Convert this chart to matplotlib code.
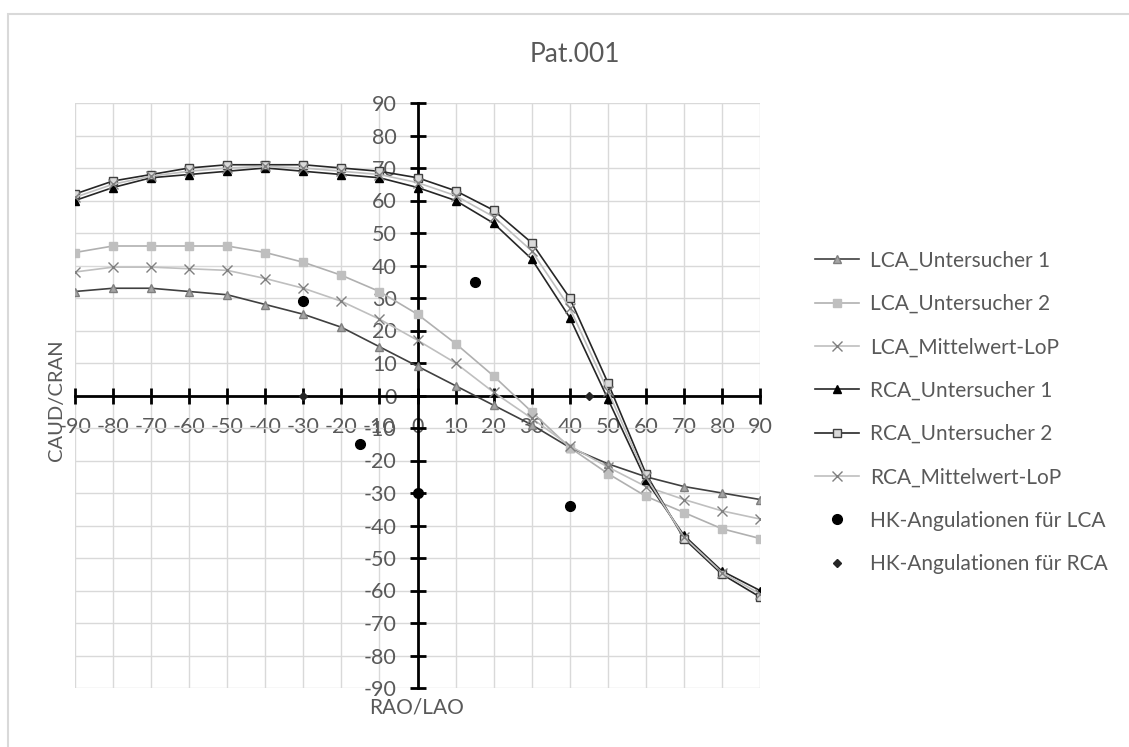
import numpy as np
import matplotlib
matplotlib.use("Agg")
import matplotlib.pyplot as plt
from matplotlib.patches import Rectangle

plt.rcParams['font.family'] = ['Lato', 'DejaVu Sans']
plt.rcParams['axes.unicode_minus'] = False

# angles RAO/LAO
angles = [-90, -80, -70, -60, -50, -40, -30, -20, -10, 0, 10, 20, 30, 40, 50, 60, 70, 80, 90]

lca_u1 = [32, 33, 33, 32, 31, 28, 25, 21, 15, 9, 3, -3, -9, -16, -21, -25, -28, -30, -32]
lca_u2 = [44, 46, 46, 46, 46, 44, 41, 37, 32, 25, 16, 6, -5, -16, -24, -31, -36, -41, -44]
lca_mw = [38, 39.5, 39.5, 39, 38.5, 36, 33, 29, 23.5, 17, 10, 1, -7, -15.5, -22, -28, -32, -35.5, -38]
rca_u1 = [60, 64, 67, 68, 69, 70, 69, 68, 67, 64, 60, 53, 42, 24, -1, -26, -43, -54, -60]
rca_u2 = [62, 66, 68, 70, 71, 71, 71, 70, 69, 67, 63, 57, 47, 30, 4, -24, -44, -55, -62]
rca_mw = [61, 65, 67.5, 69, 70, 70.5, 70, 69, 68, 65.5, 61.5, 55, 44.5, 27, 1.5, -25, -43.5, -54.5, -61]

hk_lca_x = [-30, 15, -15, 0, 40]
hk_lca_y = [29, 35, -15, -30, -34]
hk_rca_x = [-30, 45]
hk_rca_y = [0, 0]

ticks = list(range(-90, 91, 10))

W, H = 1129, 747
fig = plt.figure(figsize=(W / 100, H / 100), dpi=100)
# chart border, cut off at right and bottom like the reference
fig.patches.append(Rectangle((8 / W, -0.05), 1.1, 1.05 - 14 / H, transform=fig.transFigure,
                             fill=False, edgecolor='#d9d9d9', linewidth=1.5))
ax = fig.add_axes([75 / W, 1 - 688 / H, 685 / W, 585 / H])

ax.plot(angles, lca_u1, color='#404040', lw=1.2, marker='^', ms=6,
        mfc='#a5a5a5', mec='#7f7f7f', label='LCA_Untersucher 1', zorder=3)
ax.plot(angles, lca_u2, color='#b0b0b0', lw=1.2, marker='s', ms=6,
        mfc='#bfbfbf', mec='#bfbfbf', label='LCA_Untersucher 2', zorder=3)
ax.plot(angles, lca_mw, color='#bfbfbf', lw=1.2, marker='x', ms=7,
        mec='#7f7f7f', mew=1, label='LCA_Mittelwert-LoP', zorder=3)
ax.plot(angles, rca_u1, color='#262626', lw=1.2, marker='^', ms=6,
        mfc='black', mec='black', label='RCA_Untersucher 1', zorder=3)
ax.plot(angles, rca_u2, color='#262626', lw=1.2, marker='s', ms=6,
        mfc='#d9d9d9', mec='#404040', label='RCA_Untersucher 2', zorder=3)
ax.plot(angles, rca_mw, color='#bfbfbf', lw=1.2, marker='x', ms=7,
        mec='#7f7f7f', mew=1, label='RCA_Mittelwert-LoP', zorder=3)
ax.plot(hk_lca_x, hk_lca_y, ls='none', marker='o', ms=7, color='black',
        label='HK-Angulationen für LCA', zorder=4)
ax.plot(hk_rca_x, hk_rca_y, ls='none', marker='D', ms=4.5, color='#262626',
        label='HK-Angulationen für RCA', zorder=4)

ax.set_xlim(-90, 90)
ax.set_ylim(-90, 90)
ax.set_xticks(ticks)
ax.set_yticks(ticks)
ax.grid(True, color='#d9d9d9', lw=1)
ax.set_axisbelow(True)

for side in ['top', 'right']:
    ax.spines[side].set_visible(False)
ax.spines['left'].set_position(('data', 0))
ax.spines['bottom'].set_position(('data', 0))
for side in ['left', 'bottom']:
    ax.spines[side].set_linewidth(2)
    ax.spines[side].set_color('black')
    ax.spines[side].set_zorder(2.5)
ax.tick_params(direction='inout', length=12, width=2, color='black',
               labelsize=15.5, labelcolor='#595959')
ax.tick_params(axis='x', pad=9.5)
ax.tick_params(axis='y', pad=9)

fig.text(575 / W, 1 - 54 / H, 'Pat.001', ha='center', va='center',
         fontsize=19, color='#595959')
fig.text(57 / W, 1 - 400 / H, 'CAUD/CRAN', rotation=90, ha='center',
         va='center', fontsize=14.5, color='#595959')
fig.text(417 / W, 1 - 708 / H, 'RAO/LAO', ha='center', va='center',
         fontsize=15, color='#595959')

leg = ax.legend(loc='upper left', bbox_to_anchor=(796 / W, 1 - 232 / H),
                bbox_transform=fig.transFigure, frameon=False, fontsize=15,
                labelspacing=1.12, handlelength=2.1, handletextpad=0.55)
for t in leg.get_texts():
    t.set_color('#595959')

fig.savefig('out.png', dpi=100)
